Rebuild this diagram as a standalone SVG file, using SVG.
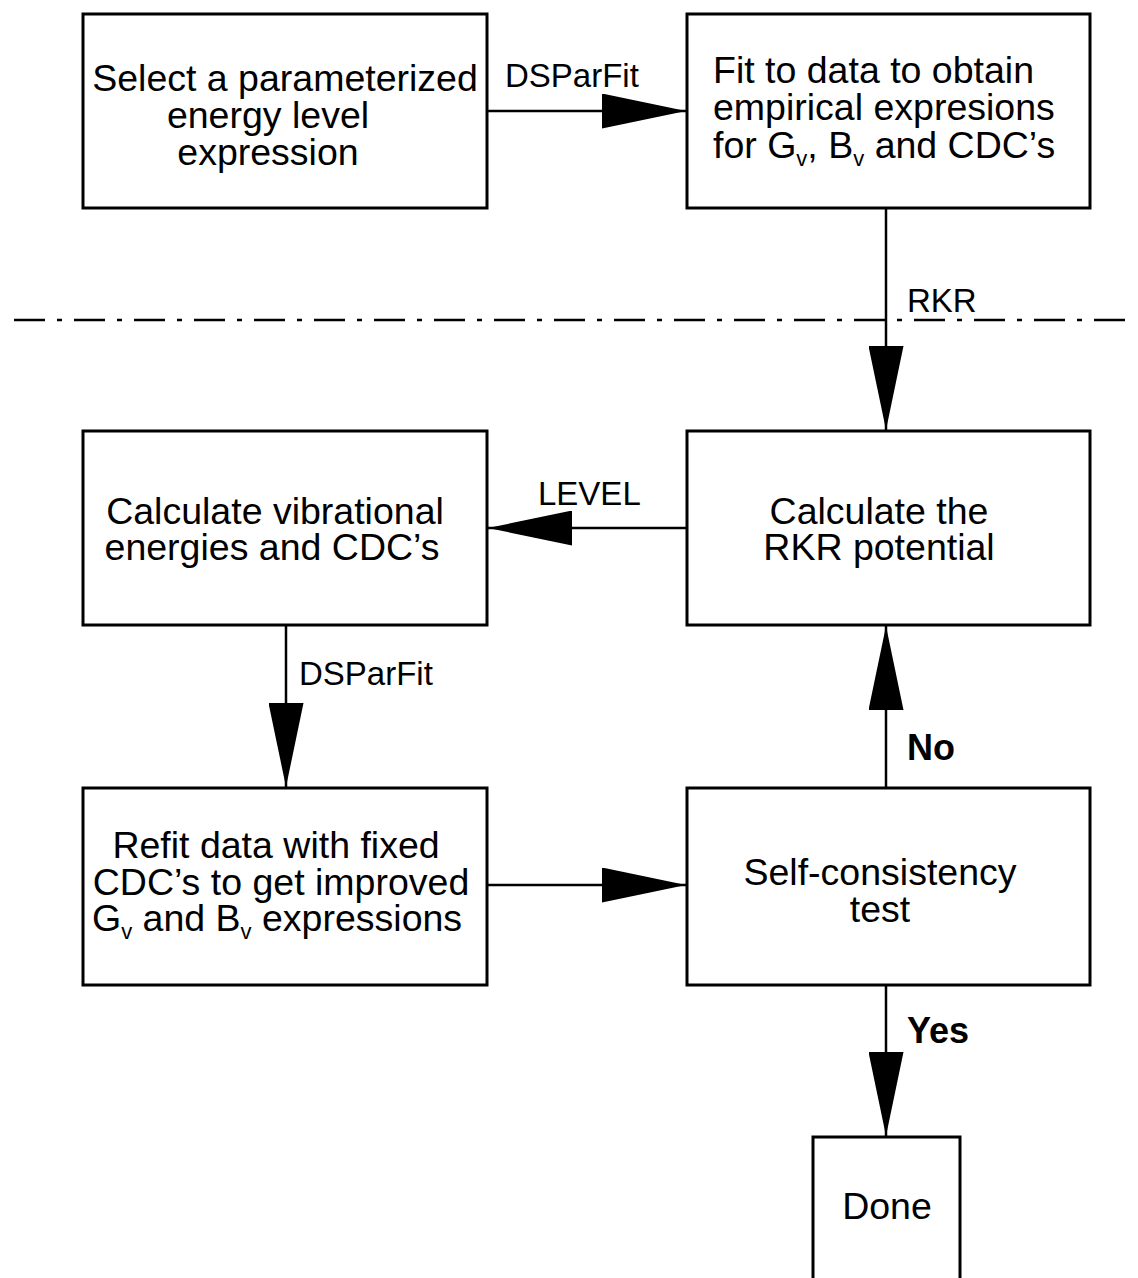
<svg xmlns="http://www.w3.org/2000/svg" width="1138" height="1278" viewBox="0 0 1138 1278">
<style>
.box{fill:#fff;stroke:#000;stroke-width:3}
.t{font-family:"Liberation Sans",Arial,sans-serif;font-size:37.5px;fill:#000}
.l{font-family:"Liberation Sans",Arial,sans-serif;font-size:33px;fill:#000}
.b{font-family:"Liberation Sans",Arial,sans-serif;font-size:36px;font-weight:bold;fill:#000}
.c{stroke:#000;stroke-width:2.5;fill:none}
.s{font-size:22px}
</style>
<defs>
<marker id="ah" markerUnits="userSpaceOnUse" viewBox="0 0 84 35" markerWidth="84" markerHeight="35" refX="84" refY="17.5" orient="auto">
<path d="M0,0 L84,17.5 L0,35 Z" fill="#000"/>
</marker>
</defs>
<rect width="1138" height="1278" fill="#fff"/>
<line x1="14" y1="320" x2="1128" y2="320" stroke="#000" stroke-width="2.5" stroke-dasharray="31 12 5 12"/>
<g id="connectors">
<line class="c" x1="487" y1="111" x2="686" y2="111" marker-end="url(#ah)"/>
<line class="c" x1="886" y1="208" x2="886" y2="430" marker-end="url(#ah)"/>
<line class="c" x1="687" y1="528" x2="488" y2="528" marker-end="url(#ah)"/>
<line class="c" x1="286" y1="625" x2="286" y2="787" marker-end="url(#ah)"/>
<line class="c" x1="487" y1="885" x2="686" y2="885" marker-end="url(#ah)"/>
<line class="c" x1="886" y1="788" x2="886" y2="626" marker-end="url(#ah)"/>
<line class="c" x1="886" y1="985" x2="886" y2="1136" marker-end="url(#ah)"/>
<text class="l" x="505" y="87">DSParFit</text>
<text class="l" x="907" y="312">RKR</text>
<text class="l" x="538" y="505">LEVEL</text>
<text class="l" x="299" y="685">DSParFit</text>
<text class="b" x="907" y="760">No</text>
<text class="b" x="907" y="1043">Yes</text>
</g>
<g id="n1">
<rect class="box" x="83" y="14" width="404" height="194"/>
<text class="t" text-anchor="middle"><tspan x="285" y="91">Select a parameterized</tspan><tspan x="268" y="128">energy level</tspan><tspan x="268" y="165">expression</tspan></text>
</g>
<g id="n2">
<rect class="box" x="687" y="14" width="403" height="194"/>
<text class="t"><tspan x="713" y="83">Fit to data to obtain</tspan><tspan x="713" y="120">empirical expresions</tspan><tspan x="713" y="158">for G<tspan class="s" dy="8">v</tspan><tspan dy="-8">, B</tspan><tspan class="s" dy="8">v</tspan><tspan dy="-8"> and CDC’s</tspan></tspan></text>
</g>
<g id="n3">
<rect class="box" x="687" y="431" width="403" height="194"/>
<text class="t" text-anchor="middle"><tspan x="879" y="524">Calculate the</tspan><tspan x="879" y="560">RKR potential</tspan></text>
</g>
<g id="n4">
<rect class="box" x="83" y="431" width="404" height="194"/>
<text class="t" text-anchor="middle"><tspan x="275" y="524">Calculate vibrational</tspan><tspan x="272" y="560">energies and CDC’s</tspan></text>
</g>
<g id="n5">
<rect class="box" x="83" y="788" width="404" height="197"/>
<text class="t" text-anchor="middle"><tspan x="276" y="858">Refit data with fixed</tspan><tspan x="281" y="895">CDC’s to get improved</tspan></text>
<text class="t" x="92" y="931">G<tspan class="s" dy="8">v</tspan><tspan dy="-8"> and B</tspan><tspan class="s" dy="8">v</tspan><tspan dy="-8"> expressions</tspan></text>
</g>
<g id="n6">
<rect class="box" x="687" y="788" width="403" height="197"/>
<text class="t" text-anchor="middle"><tspan x="880" y="885">Self-consistency</tspan><tspan x="880" y="922">test</tspan></text>
</g>
<g id="n7">
<rect class="box" x="813" y="1137" width="147" height="160"/>
<text class="t" text-anchor="middle" x="887" y="1219">Done</text>
</g>
</svg>
